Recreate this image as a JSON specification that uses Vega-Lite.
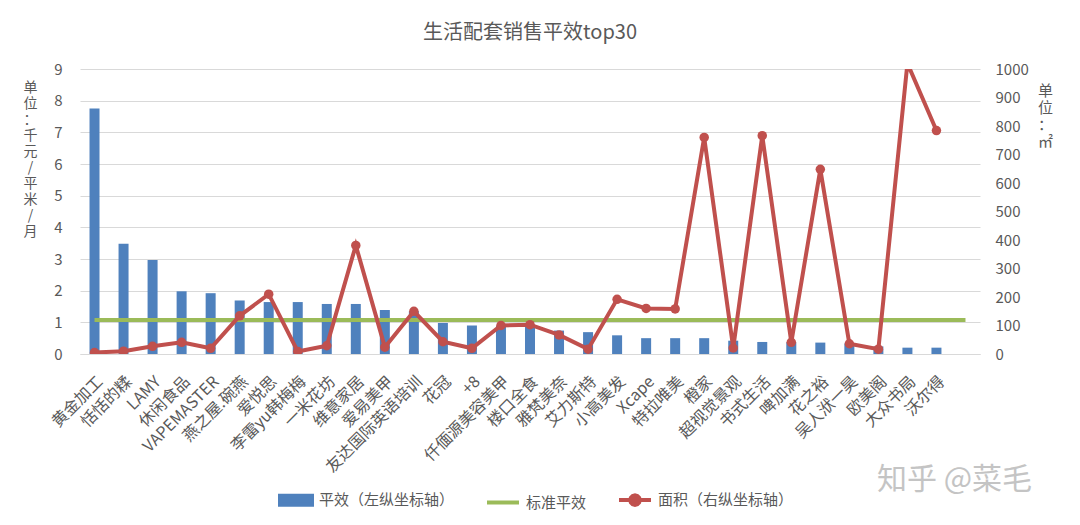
{
  "$schema": "https://vega.github.io/schema/vega-lite/v6.json",
  "background": "white",
  "autosize": {"type": "none"},
  "width": 900,
  "height": 285,
  "padding": {"left": 80, "top": 69, "right": 100, "bottom": 171},
  "title": {
    "text": "生活配套销售平效top30",
    "anchor": "middle",
    "frame": "group",
    "offset": 19,
    "fontSize": 20,
    "fontWeight": "normal",
    "color": "#595959",
    "font": "Noto Sans CJK SC"
  },
  "data": {
    "values": [
      {"store": "黄金加工", "efficiency": 7.75, "area": 5, "standard": 1.07},
      {"store": "恬恬的糅", "efficiency": 3.48, "area": 10, "standard": 1.07},
      {"store": "LAMY", "efficiency": 2.97, "area": 27, "standard": 1.07},
      {"store": "休闲食品", "efficiency": 1.98, "area": 41, "standard": 1.07},
      {"store": "VAPEMASTER", "efficiency": 1.92, "area": 20, "standard": 1.07},
      {"store": "燕之屋.碗燕", "efficiency": 1.69, "area": 134, "standard": 1.07},
      {"store": "爱悦思", "efficiency": 1.64, "area": 210, "standard": 1.07},
      {"store": "李雷yu韩梅梅", "efficiency": 1.64, "area": 9, "standard": 1.07},
      {"store": "一米花坊", "efficiency": 1.58, "area": 29, "standard": 1.07},
      {"store": "维意家居", "efficiency": 1.58, "area": 381, "standard": 1.07},
      {"store": "爱易美甲", "efficiency": 1.39, "area": 24, "standard": 1.07},
      {"store": "友达国际英语培训", "efficiency": 1.35, "area": 150, "standard": 1.07},
      {"store": "花冠", "efficiency": 0.98, "area": 43, "standard": 1.07},
      {"store": "+8", "efficiency": 0.9, "area": 20, "standard": 1.07},
      {"store": "仟偭源美容美甲", "efficiency": 0.89, "area": 100, "standard": 1.07},
      {"store": "楼口全食", "efficiency": 0.87, "area": 103, "standard": 1.07},
      {"store": "雅梵美奈", "efficiency": 0.74, "area": 67, "standard": 1.07},
      {"store": "艾力斯特", "efficiency": 0.69, "area": 17, "standard": 1.07},
      {"store": "小高美发", "efficiency": 0.59, "area": 192, "standard": 1.07},
      {"store": "Xcape", "efficiency": 0.5, "area": 160, "standard": 1.07},
      {"store": "特拉唯美", "efficiency": 0.5, "area": 158, "standard": 1.07},
      {"store": "橙家", "efficiency": 0.5, "area": 760, "standard": 1.07},
      {"store": "超视觉景观", "efficiency": 0.42, "area": 21, "standard": 1.07},
      {"store": "书式生活", "efficiency": 0.38, "area": 766, "standard": 1.07},
      {"store": "啤加满", "efficiency": 0.37, "area": 41, "standard": 1.07},
      {"store": "花之裕", "efficiency": 0.36, "area": 648, "standard": 1.07},
      {"store": "吴人洑一昊", "efficiency": 0.33, "area": 36, "standard": 1.07},
      {"store": "欧美阁", "efficiency": 0.24, "area": 17, "standard": 1.07},
      {"store": "大众书局", "efficiency": 0.2, "area": 1020, "standard": 1.07},
      {"store": "沃尔得", "efficiency": 0.2, "area": 784, "standard": 1.07},
      {"store": " ", "efficiency": null, "area": null, "standard": 1.07}
    ]
  },
  "encoding": {
    "x": {
      "field": "store",
      "type": "nominal",
      "sort": null,
      "scale": {"paddingInner": 0, "paddingOuter": 0},
      "axis": {
        "title": "知乎 @菜毛",
        "titleX": 874,
        "titleY": 125,
        "titleAlign": "center",
        "titleBaseline": "middle",
        "titleFontSize": 30,
        "titleFontWeight": "normal",
        "titleColor": "#c4c4c4",
        "titleFont": "Noto Sans CJK SC",
        "labelAngle": -45,
        "labelFontSize": 16,
        "labelColor": "#595959",
        "labelFont": "Noto Sans CJK SC",
        "labelPadding": 19,
        "ticks": false,
        "domainColor": "#d9d9d9",
        "domainWidth": 1,
        "labelOverlap": false
      }
    }
  },
  "layer": [
    {
      "layer": [
        {
          "mark": {"type": "bar", "size": 10},
          "encoding": {
            "y": {
              "field": "efficiency",
              "type": "quantitative",
              "scale": {"domain": [0, 9]},
              "axis": {
                "values": [0, 1, 2, 3, 4, 5, 6, 7, 8, 9],
                "grid": true,
                "gridColor": "#d9d9d9",
                "gridWidth": 1,
                "domain": false,
                "ticks": false,
                "labelColor": "#595959",
                "labelFontSize": 15,
                "labelFont": "Noto Sans CJK SC",
                "labelPadding": 18,
                "title": ["单", "位", "：", "千", "元", "/", "平", "米", "/", "月"],
                "titleAngle": 0,
                "titleX": -50,
                "titleY": 11,
                "titleAlign": "center",
                "titleBaseline": "top",
                "titleFontSize": 14,
                "titleFontWeight": "normal",
                "titleLineHeight": 16,
                "titleColor": "#595959",
                "titleFont": "Noto Sans CJK SC"
              }
            },
            "color": {
              "datum": "平效（左纵坐标轴）",
              "legend": {
                "encode": {
                  "symbols": {
                    "update": {
                      "shape": {"signal": "datum.value === '平效（左纵坐标轴）' ? 'M-1,-0.28H1V0.28H-1Z' : datum.value === '标准平效' ? 'M-1,0H1' : 'M-1,0H1M0.3,0L0.26,0.15L0.15,0.26L0,0.3L-0.15,0.26L-0.26,0.15L-0.3,0L-0.26,-0.15L-0.15,-0.26L0,-0.3L0.15,-0.26L0.26,-0.15Z'"},
                      "fill": {"signal": "datum.value === '平效（左纵坐标轴）' ? '#4F81BD' : datum.value === '标准平效' ? 'transparent' : '#C0504D'"},
                      "stroke": {"signal": "datum.value === '平效（左纵坐标轴）' ? 'transparent' : datum.value === '标准平效' ? '#9BBB59' : '#C0504D'"},
                      "strokeWidth": {"value": 4},
                      "opacity": {"value": 1},
                      "fillOpacity": {"value": 1},
                      "strokeOpacity": {"value": 1}
                    }
                  }
                }
              }
            }
          }
        },
        {
          "mark": {"type": "line", "strokeWidth": 4},
          "encoding": {
            "y": {
              "field": "standard",
              "type": "quantitative",
              "axis": {
                "values": [0, 1, 2, 3, 4, 5, 6, 7, 8, 9],
                "grid": true,
                "gridColor": "#d9d9d9",
                "gridWidth": 1,
                "domain": false,
                "ticks": false,
                "labelColor": "#595959",
                "labelFontSize": 15,
                "labelFont": "Noto Sans CJK SC",
                "labelPadding": 18,
                "title": ["单", "位", "：", "千", "元", "/", "平", "米", "/", "月"],
                "titleAngle": 0,
                "titleX": -50,
                "titleY": 11,
                "titleAlign": "center",
                "titleBaseline": "top",
                "titleFontSize": 14,
                "titleFontWeight": "normal",
                "titleLineHeight": 16,
                "titleColor": "#595959",
                "titleFont": "Noto Sans CJK SC"
              }
            },
            "color": {"datum": "标准平效"}
          }
        }
      ]
    },
    {
      "layer": [
        {
          "mark": {"type": "line", "strokeWidth": 4, "clip": true},
          "encoding": {
            "y": {
              "field": "area",
              "type": "quantitative",
              "scale": {"domain": [0, 1000]},
              "axis": {
                "orient": "right",
                "values": [0, 100, 200, 300, 400, 500, 600, 700, 800, 900, 1000],
                "format": "d",
                "grid": false,
                "domain": false,
                "ticks": false,
                "labelColor": "#595959",
                "labelFontSize": 15,
                "labelFont": "Noto Sans CJK SC",
                "labelPadding": 15,
                "title": ["单", "位", "：", "㎡"],
                "titleAngle": 0,
                "titleX": 65,
                "titleY": 14,
                "titleAlign": "center",
                "titleBaseline": "top",
                "titleFontSize": 15,
                "titleFontWeight": "normal",
                "titleLineHeight": 17,
                "titleColor": "#595959",
                "titleFont": "Noto Sans CJK SC"
              }
            },
            "color": {"datum": "面积（右纵坐标轴）"}
          }
        },
        {
          "mark": {"type": "point", "filled": true, "size": 90, "opacity": 1, "clip": true},
          "encoding": {
            "y": {
              "field": "area",
              "type": "quantitative",
              "axis": {
                "orient": "right",
                "values": [0, 100, 200, 300, 400, 500, 600, 700, 800, 900, 1000],
                "format": "d",
                "grid": false,
                "domain": false,
                "ticks": false,
                "labelColor": "#595959",
                "labelFontSize": 15,
                "labelFont": "Noto Sans CJK SC",
                "labelPadding": 15,
                "title": ["单", "位", "：", "㎡"],
                "titleAngle": 0,
                "titleX": 65,
                "titleY": 14,
                "titleAlign": "center",
                "titleBaseline": "top",
                "titleFontSize": 15,
                "titleFontWeight": "normal",
                "titleLineHeight": 17,
                "titleColor": "#595959",
                "titleFont": "Noto Sans CJK SC"
              }
            },
            "color": {"datum": "面积（右纵坐标轴）"}
          }
        }
      ]
    }
  ],
  "resolve": {"scale": {"y": "independent"}},
  "config": {
    "view": {"stroke": null},
    "range": {"category": ["#4F81BD", "#9BBB59", "#C0504D"]},
    "legend": {
      "orient": "none",
      "legendX": 198,
      "legendY": 413,
      "direction": "horizontal",
      "title": null,
      "symbolSize": 1024,
      "labelFontSize": 15,
      "labelColor": "#595959",
      "labelFont": "Noto Sans CJK SC",
      "labelOffset": 5,
      "columnPadding": 24
    }
  }
}
